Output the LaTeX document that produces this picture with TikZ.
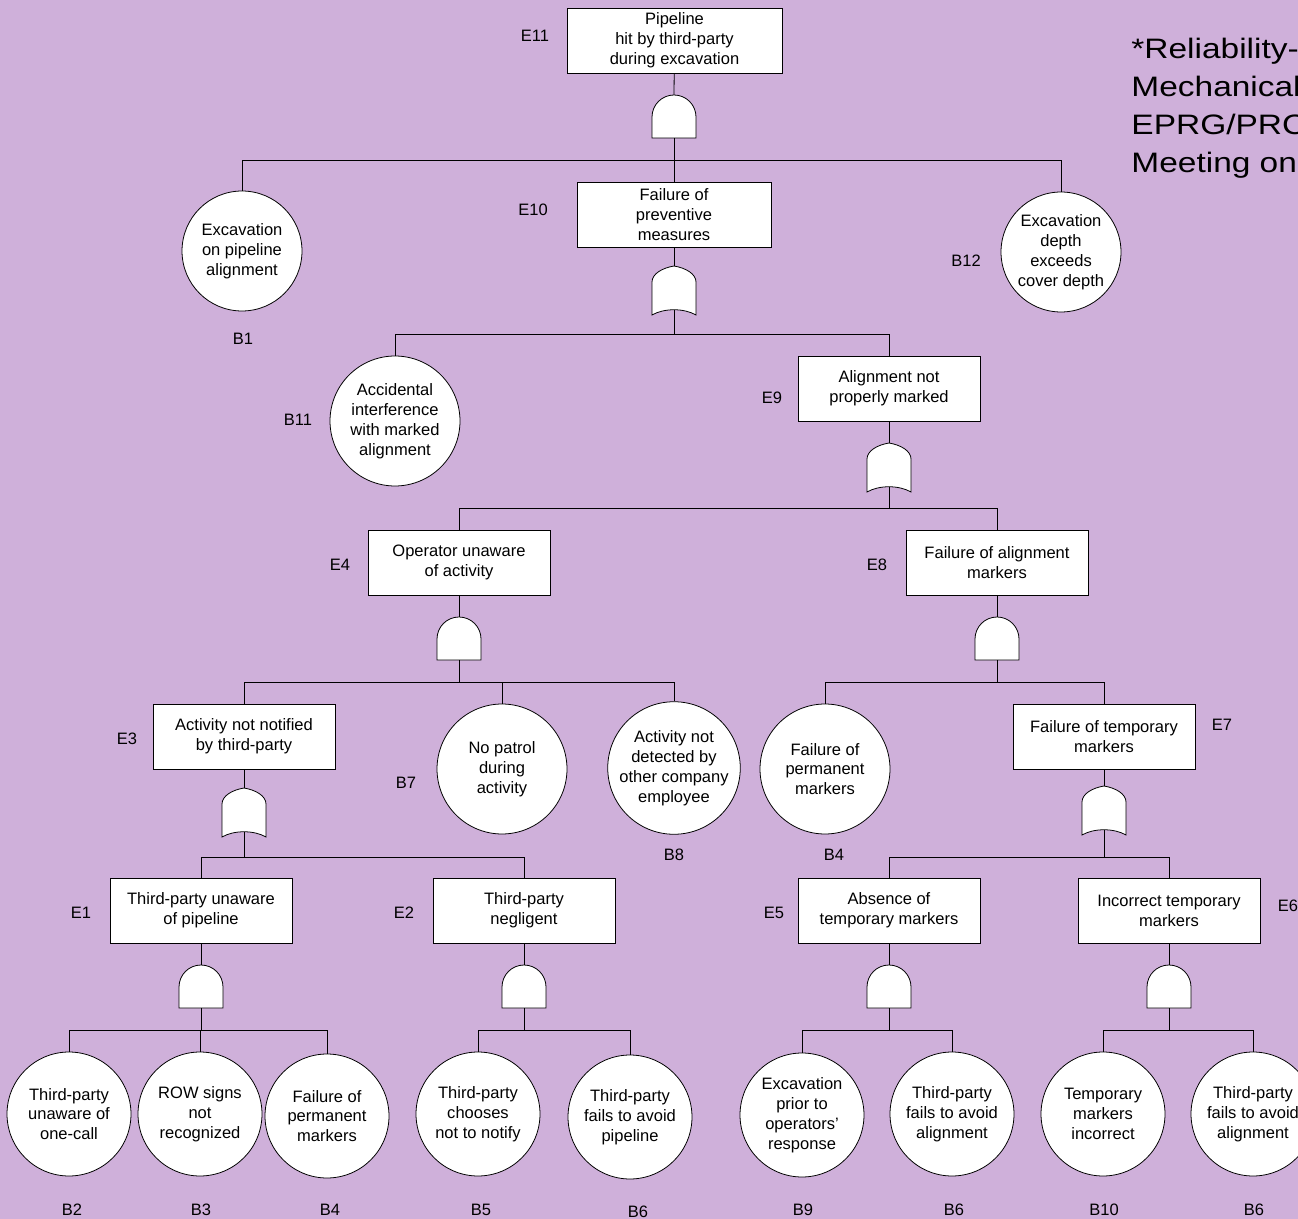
\documentclass[tikz,border=0pt]{standalone}
\usepackage{fontspec}
\setmainfont{Liberation Sans}
\usepackage{tikz}
\definecolor{lilac}{RGB}{207,176,218}

% Styles for the fault tree
\tikzset{
    event/.style={draw, fill=white, line width=0.45pt, minimum width=3.64cm,
        minimum height=1.3cm, align=center, inner sep=1pt},
    basic/.style={circle, draw, fill=white, line width=0.45pt, minimum size=2.48cm,
        align=center, inner sep=0pt},
    tag/.style={inner sep=0pt},
    gatebody/.style={draw, fill=white, line width=0.45pt},
    andgate/.pic={
        \draw[gatebody] (-22,43) -- (-22,22) arc[start angle=180, end angle=360, radius=22]
            -- (22,43) -- cycle;
        \coordinate (-in) at (0,0);
        \coordinate (-out) at (0,43);
    },
    orgate/.pic={
        \draw[gatebody] (-22,49) -- (-22,16) .. controls (-22,8) and (-12,2) .. (0,0)
            .. controls (12,2) and (22,8) .. (22,16) -- (22,49)
            .. controls (10,42) and (-10,42) .. (-22,49) -- cycle;
        \coordinate (-in) at (0,0);
        \coordinate (-out) at (0,44);
    }
}

\begin{document}
\begin{tikzpicture}[x=0.02cm, y=-0.02cm, line width=0.45pt,
    font=\fontsize{9.4}{11.3}\selectfont]
    % Background and frame
    \fill[lilac] (0,0) rectangle (1298,1219);
    \useasboundingbox (0,0) rectangle (1298,1219);

    % Top event
    \node[event, minimum width=4.3cm] (e11) at (674.5,40.5) {Pipeline\\hit by third-party\\during excavation};
    \pic (g11) at (674,95) {andgate};
    \coordinate (j11) at (674,160);
    \node[basic, minimum size=2.4cm] (b1) at (242,251) {Excavation\\on pipeline\\alignment};
    \node[basic, minimum size=2.4cm] (b12) at (1061,252) {Excavation\\depth\\exceeds\\cover depth};
    \node[event, minimum width=3.88cm] (e10) at (674,214.5) {Failure of\\preventive\\measures};

    % Second level
    \pic (g10) at (674,266) {orgate};
    \coordinate (j10) at (674,334);
    \node[basic, minimum size=2.6cm] (b11) at (395,421) {Accidental\\interference\\with marked\\alignment};
    \node[event] (e9) at (889,388.5) {Alignment not\\properly marked};
    \pic (g9) at (889,443) {orgate};
    \coordinate (j9) at (889,508);
    \node[event] (e4) at (459,562.5) {Operator unaware\\of activity};
    \node[event] (e8) at (997,562.5) {Failure of alignment\\markers};

    % Operator branch
    \pic (g4) at (459,617) {andgate};
    \coordinate (j4) at (459,682);
    \node[event] (e3) at (244,736.5) {Activity not notified\\by third-party};
    \node[basic, minimum size=2.6cm] (b7) at (502,769) {No patrol\\during\\activity};
    \node[basic, minimum size=2.6cm] (b8) at (674,768) {Activity not\\detected by\\other company\\employee};
    \pic (g3) at (244,788) {orgate};
    \coordinate (j3) at (244,857);
    \node[event] (e1) at (201,910.5) {Third-party unaware\\of pipeline};
    \node[event] (e2) at (524,910.5) {Third-party\\negligent};

    % Marker branch
    \pic (g8) at (997,617) {andgate};
    \coordinate (j8) at (997,682);
    \node[basic, minimum size=2.6cm] (b4a) at (825,769) {Failure of\\permanent\\markers};
    \node[event] (e7) at (1104,736.5) {Failure of temporary\\markers};
    \pic (g7) at (1104,786) {orgate};
    \coordinate (j7) at (1104,857);
    \node[event] (e5) at (889,910.5) {Absence of\\temporary markers};
    \node[event] (e6) at (1169,910.5) {Incorrect temporary\\markers};

    % Bottom gates
    \pic (g1) at (201,965) {andgate};
    \pic (g2) at (524,965) {andgate};
    \pic (g5) at (889,965) {andgate};
    \pic (g6) at (1169,965) {andgate};
    \coordinate (j1) at (201,1030);
    \coordinate (j2) at (524,1030);
    \coordinate (j5) at (889,1030);
    \coordinate (j6) at (1169,1030);

    % Basic events, bottom row
    \node[basic] (b2) at (69,1114) {Third-party\\unaware of\\one-call};
    \node[basic] (b3) at (200,1114) {ROW signs\\not\\recognized};
    \node[basic] (b4b) at (327,1116) {Failure of\\permanent\\markers};
    \node[basic] (b5) at (478,1114) {Third-party\\chooses\\not to notify};
    \node[basic] (b6a) at (630,1117) {Third-party\\fails to avoid\\pipeline};
    \node[basic] (b9) at (802,1115) {Excavation\\prior to\\operators'\\response};
    \node[basic] (b6b) at (952,1114) {Third-party\\fails to avoid\\alignment};
    \node[basic] (b10) at (1103,1114) {Temporary\\markers\\incorrect};
    \node[basic] (b6c) at (1253,1114) {Third-party\\fails to avoid\\alignment};

    % Connectors
    \draw (e11) -- (g11-in);
    \draw (g11-out) -- (j11);
    \draw (j11) -| (b1);
    \draw (j11) -| (b12);
    \draw (j11) -- (e10);
    \draw (e10) -- (g10-in);
    \draw (g10-out) -- (j10);
    \draw (j10) -| (b11);
    \draw (j10) -| (e9);
    \draw (e9) -- (g9-in);
    \draw (g9-out) -- (j9);
    \draw (j9) -| (e4);
    \draw (j9) -| (e8);
    \draw (e4) -- (g4-in);
    \draw (g4-out) -- (j4);
    \draw (j4) -| (e3);
    \draw (j4) -| (b7);
    \draw (j4) -| (b8);
    \draw (e8) -- (g8-in);
    \draw (g8-out) -- (j8);
    \draw (j8) -| (b4a);
    \draw (j8) -| (e7);
    \draw (e3) -- (g3-in);
    \draw (g3-out) -- (j3);
    \draw (j3) -| (e1);
    \draw (j3) -| (e2);
    \draw (e7) -- (g7-in);
    \draw (g7-out) -- (j7);
    \draw (j7) -| (e5);
    \draw (j7) -| (e6);
    \draw (e1) -- (g1-in);
    \draw (g1-out) -- (j1);
    \draw (j1) -| (b2);
    \draw (j1) -| (b3);
    \draw (j1) -| (b4b);
    \draw (e2) -- (g2-in);
    \draw (g2-out) -- (j2);
    \draw (j2) -| (b5);
    \draw (j2) -| (b6a);
    \draw (e5) -- (g5-in);
    \draw (g5-out) -- (j5);
    \draw (j5) -| (b9);
    \draw (j5) -| (b6b);
    \draw (e6) -- (g6-in);
    \draw (g6-out) -- (j6);
    \draw (j6) -| (b10);
    \draw (j6) -| (b6c);

    % Event labels
    \node[tag] (le11) at (535,36) {E11};
    \node[tag] (le10) at (533,210) {E10};
    \node[tag] (le9) at (772,398) {E9};
    \node[tag] (le4) at (340,565) {E4};
    \node[tag] (le8) at (877,565) {E8};
    \node[tag] (le3) at (127,739) {E3};
    \node[tag] (le7) at (1222,725) {E7};
    \node[tag] (le1) at (81,913) {E1};
    \node[tag] (le2) at (404,913) {E2};
    \node[tag] (le5) at (774,913) {E5};
    \node[tag] (le6) at (1288,906) {E6};
    \node[tag] (lb1) at (243,339) {B1};
    \node[tag] (lb12) at (966,261) {B12};
    \node[tag] (lb11) at (298,420) {B11};
    \node[tag] (lb7) at (406,783) {B7};
    \node[tag] (lb8) at (674,855) {B8};
    \node[tag] (lb4a) at (834,855) {B4};
    \node[tag] (lb2) at (72,1210) {B2};
    \node[tag] (lb3) at (201,1210) {B3};
    \node[tag] (lb4b) at (330,1210) {B4};
    \node[tag] (lb5) at (481,1210) {B5};
    \node[tag] (lb6a) at (638,1212) {B6};
    \node[tag] (lb9) at (803,1210) {B9};
    \node[tag] (lb6b) at (954,1210) {B6};
    \node[tag] (lb10) at (1104,1210) {B10};
    \node[tag] (lb6c) at (1254,1210) {B6};

    % Source note, cut off at the right edge
    \begin{scope}
        \clip (0,0) rectangle (1298,1219);
        \node[tag, anchor=north west, align=left, xscale=1.19, transform shape,
            font=\fontsize{16}{21.5}\selectfont]
            (note) at (1131,38) {*Reliability-based\\ Mechanical\\ EPRG/PRCI\\ Meeting on};
    \end{scope}
\end{tikzpicture}
\end{document}
